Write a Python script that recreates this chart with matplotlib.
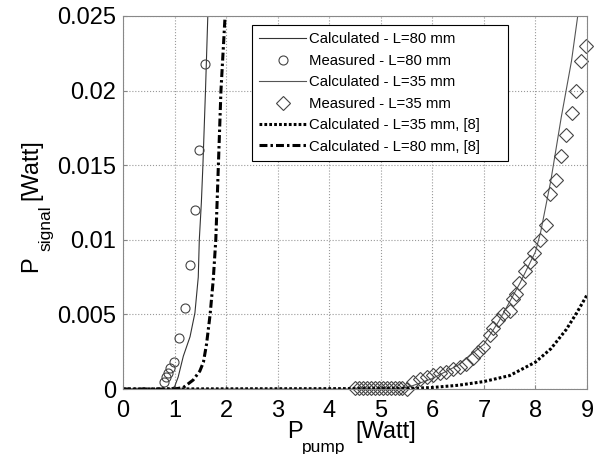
import matplotlib
matplotlib.use('Agg')
import matplotlib.pyplot as plt

plt.rcParams['font.family'] = ['Liberation Sans', 'DejaVu Sans']

# calculated, L=80 mm
calc80_x = [0, 0.9, 1.0, 1.07, 1.17, 1.30, 1.395, 1.46, 1.48, 1.52, 1.55, 1.60, 1.645]
calc80_y = [0, 0, 0.00015, 0.0008, 0.0022, 0.0035, 0.0051, 0.0075, 0.0100, 0.0125, 0.0150, 0.0200, 0.0250]

# measured, L=80 mm
meas80_x = [0.79, 0.83, 0.88, 0.92, 0.99, 1.09, 1.20, 1.29, 1.40, 1.48, 1.60]
meas80_y = [0.0005, 0.0008, 0.0011, 0.0014, 0.0018, 0.0034, 0.0054, 0.0083, 0.0120, 0.0160, 0.0218]

# calculated, L=35 mm
calc35_x = [0, 5.3, 5.6, 6.0, 6.5, 7.0, 7.3, 7.7, 8.0, 8.1, 8.3, 8.5, 8.7, 8.82]
calc35_y = [0, 0, 0.0002, 0.0007, 0.0016, 0.0030, 0.0046, 0.0071, 0.0092, 0.0105, 0.0140, 0.0182, 0.0220, 0.0250]

# measured, L=35 mm
meas35_x = [4.50, 4.58, 4.65, 4.73, 4.81, 4.88, 4.96, 5.04, 5.12, 5.19, 5.27, 5.35, 5.42, 5.50,
            5.63, 5.76, 5.89, 6.01, 6.14, 6.27, 6.40, 6.53, 6.66, 6.79, 6.89, 6.98, 7.11, 7.18,
            7.27, 7.37, 7.50, 7.56, 7.63, 7.69, 7.79, 7.89, 7.98, 8.08, 8.21, 8.29, 8.40, 8.50,
            8.60, 8.70, 8.79, 8.89, 8.99]
meas35_y = [0.00005, 0.00005, 0.00005, 0.00005, 0.00005, 0.00005, 0.00005, 0.00005, 0.00005,
            0.00005, 0.00005, 0.00005, 0.00005, 0.00003,
            0.0005, 0.00065, 0.00083, 0.00092, 0.00105, 0.00116, 0.00132, 0.0015, 0.0017, 0.0021,
            0.0025, 0.0028, 0.0036, 0.0041, 0.0046, 0.0050, 0.0052, 0.0060, 0.0064, 0.0071,
            0.0079, 0.0085, 0.0091, 0.0100, 0.0110, 0.0131, 0.0140, 0.0156, 0.0170, 0.0185,
            0.0200, 0.0220, 0.0230]

# calculated from [8]
ref35_x = [0, 5.5, 6.0, 6.5, 7.0, 7.5, 8.0, 8.3, 8.6, 8.8, 9.0]
ref35_y = [0, 0.00003, 0.0001, 0.00025, 0.0005, 0.0009, 0.0018, 0.0027, 0.0040, 0.0051, 0.0063]
ref80_x = [0, 1.0, 1.17, 1.36, 1.49, 1.56, 1.62, 1.69, 1.75, 1.80, 1.85, 1.90, 1.98]
ref80_y = [0, 0, 0.0001, 0.0006, 0.0012, 0.0018, 0.0030, 0.0050, 0.0073, 0.0100, 0.0150, 0.0200, 0.0250]

W, H = 607, 454
fig = plt.figure(figsize=(W / 100, H / 100), dpi=100)
ax = fig.add_axes([123/W, 1 - 389/H, 464/W, 373/H])

ax.plot(calc80_x, calc80_y, '-', color='#333333', lw=0.8, label='Calculated - L=80 mm')
ax.plot(meas80_x, meas80_y, 'o', mfc='none', mec='#444444', mew=0.8, ms=6.5,
        clip_on=False, label='Measured - L=80 mm')
ax.plot(calc35_x, calc35_y, '-', color='#555555', lw=0.8, label='Calculated - L=35 mm')
ax.plot(meas35_x, meas35_y, 'D', mfc='none', mec='#444444', mew=0.8, ms=6.8,
        clip_on=False, label='Measured - L=35 mm')
ax.plot(ref35_x, ref35_y, color='black', lw=2.2, ls=(0, (0.9, 0.7)),
        label='Calculated - L=35 mm, [8]')
ax.plot(ref80_x, ref80_y, color='black', lw=2.2, ls=(0, (2.6, 1.0, 0.8, 1.0)),
        label='Calculated - L=80 mm, [8]')

ax.set_xlim(0, 9)
ax.set_ylim(0, 0.025)
ax.set_xticks(range(10))
ax.set_yticks([0, 0.005, 0.01, 0.015, 0.02, 0.025])
ax.set_yticklabels(['0', '0.005', '0.01', '0.015', '0.02', '0.025'])
ax.tick_params(axis='both', labelsize=17, direction='in', length=3, color='#888888')
ax.tick_params(axis='x', pad=8)
ax.tick_params(axis='y', pad=5)
ax.grid(True, ls=':', color='#999999', lw=0.8)
for s in ax.spines.values():
    s.set_color('#888888')

# axis labels with a low-set subscript, as in the original
def px(x, y):
    return x / W, 1 - y / H

fig.text(*px(287, 438), 'P', fontsize=17, ha='left', va='baseline')
fig.text(*px(302, 452), 'pump', fontsize=12.5, ha='left', va='baseline')
fig.text(*px(355, 438), '[Watt]', fontsize=17, ha='left', va='baseline')

fig.text(*px(37, 272), 'P', fontsize=17, rotation=90, rotation_mode='anchor',
         ha='left', va='baseline')
fig.text(*px(50, 251), 'signal', fontsize=12.5, rotation=90, rotation_mode='anchor',
         ha='left', va='baseline')
fig.text(*px(37, 200), '[Watt]', fontsize=17, rotation=90, rotation_mode='anchor',
         ha='left', va='baseline')

leg = ax.legend(loc='upper left',
                bbox_to_anchor=(252/W, 1 - 162/H, 256/W, 137/H),
                bbox_transform=fig.transFigure, mode='expand', borderaxespad=0,
                fontsize=10.7, fancybox=False, framealpha=1, edgecolor='black',
                handlelength=3.15, handletextpad=0.16, labelspacing=0.5, borderpad=0.5)
leg.get_frame().set_linewidth(0.8)

fig.savefig('out.png', dpi=100)
